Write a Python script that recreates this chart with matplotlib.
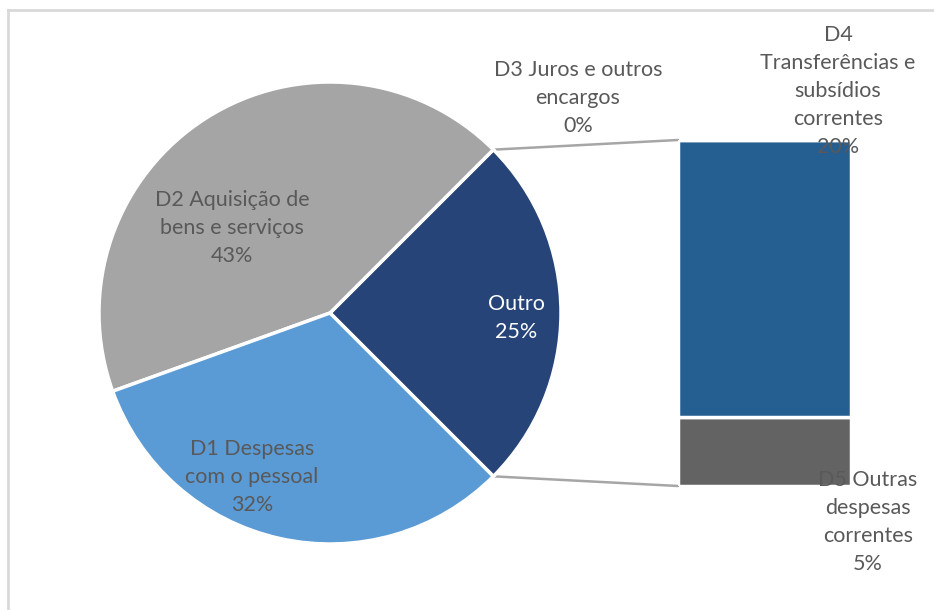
import matplotlib
matplotlib.use("Agg")
import matplotlib.pyplot as plt
from matplotlib.patches import ConnectionPatch
import numpy as np

plt.rcParams['font.family'] = ['Lato', 'DejaVu Sans']

# Data
pie_labels = ["Outro", "D2 Aquisição de\nbens e serviços", "D1 Despesas\ncom o pessoal"]
pie_values = [25, 43, 32]
pie_colors = ["#264478", "#A5A5A5", "#5B9BD5"]

bar_labels = ["D5 Outras\ndespesas\ncorrentes", "D4\nTransferências e\nsubsídios\ncorrentes", "D3 Juros e outros\nencargos"]
bar_values = [5, 20, 0]
bar_colors = ["#636363", "#255E91", "#997300"]

W, H = 934, 610
fig = plt.figure(figsize=(W / 100, H / 100), dpi=100)
ax = fig.add_axes([0, 0, 1, 1])
ax.set_zorder(3)
ax.patch.set_visible(False)

cx, cy, r = 330, H - 313, 231
wedges, _ = ax.pie(pie_values, colors=pie_colors, startangle=-45, counterclock=True,
                   center=(cx, cy), radius=r, frame=True,
                   wedgeprops=dict(edgecolor="white", linewidth=2.5))
ax.set_xlim(0, W)
ax.set_ylim(0, H)
ax.set_aspect('equal')
ax.axis('off')

txt = "#595959"
fs = 15.5
ls = 1.5
# pie labels
pie_label_pos = [(516, 318), (232, 228), (252, 477)]
pie_text_colors = ["white", txt, txt]
for lab, v, (px, py), c in zip(pie_labels, pie_values, pie_label_pos, pie_text_colors):
    ax.text(px, H - py, f"{lab}\n{v}%", ha="center", va="center", color=c,
            fontsize=fs, linespacing=ls)

# bar axes
bx0, bx1, by_top, by_bot = 678, 851, 140, 486
bax = fig.add_axes([bx0 / W, (H - by_bot) / H, (bx1 - bx0) / W, (by_bot - by_top) / H])
bax.set_zorder(1)
bottom = 0
for lab, v, c in zip(bar_labels, bar_values, bar_colors):
    bax.bar(0, v, bottom=bottom, width=1, color=c, edgecolor="white", linewidth=2.5)
    bottom += v
bax.set_xlim(-0.5, 0.5)
bax.set_ylim(0, sum(bar_values))
bax.axis('off')

bar_label_pos = [(868, 522), (838, 91), (578, 98)]
for lab, v, (px, py) in zip(bar_labels, bar_values, bar_label_pos):
    ax.text(px, H - py, f"{lab}\n{v}%", ha="center", va="center", color=txt,
            fontsize=fs, linespacing=ls, zorder=5)

# connection lines
w = wedges[0]
t1, t2 = np.deg2rad(w.theta1), np.deg2rad(w.theta2)
p_top = (cx + r * np.cos(t2), cy + r * np.sin(t2))
p_bot = (cx + r * np.cos(t1), cy + r * np.sin(t1))
for p, yb in [(p_top, sum(bar_values)), (p_bot, 0)]:
    con = ConnectionPatch(xyA=(-0.5, yb), coordsA=bax.transData,
                          xyB=p, coordsB=ax.transData, color="#A6A6A6", linewidth=1.8)
    fig.add_artist(con)

# chart border (partially visible)
fig.add_artist(plt.Line2D([8 / W, 1], [1 - 10 / H, 1 - 10 / H], transform=fig.transFigure,
                          color="#D9D9D9", linewidth=2))
fig.add_artist(plt.Line2D([8 / W, 8 / W], [0, 1 - 10 / H], transform=fig.transFigure,
                          color="#D9D9D9", linewidth=2))

fig.savefig("out.png", dpi=100, facecolor="white")
